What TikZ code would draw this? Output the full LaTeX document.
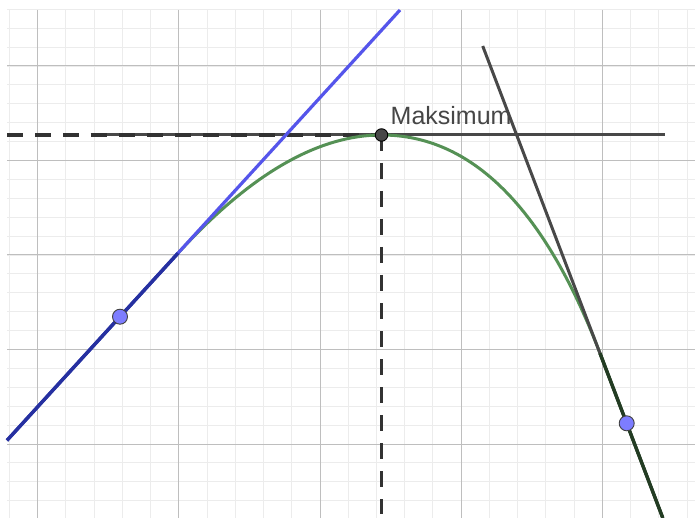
\documentclass[tikz,border=0pt]{standalone}
\usepackage{fontspec}
\setmainfont{Liberation Sans}
\usetikzlibrary{calc}
\definecolor{minorc}{RGB}{236,236,236}
\definecolor{majorc}{RGB}{190,190,190}
\definecolor{gblue}{RGB}{85,85,235}
\definecolor{ggreen}{RGB}{85,145,85}
\definecolor{gdark}{RGB}{72,72,72}
\definecolor{dashc}{RGB}{50,50,50}
\definecolor{ovblue}{RGB}{38,48,160}
\definecolor{ovdark}{RGB}{35,60,35}
\definecolor{ptblue}{RGB}{125,125,255}
\definecolor{txtc}{RGB}{70,70,70}
\tikzset{
  minorgrid/.style={draw=minorc, line width=0.9pt},
  majorgrid/.style={draw=majorc, line width=1pt},
  dashline/.style={draw=dashc, line width=3.4pt, dash pattern=on 16pt off 12pt},
  tanline/.style={draw=gdark, line width=3pt},
  blueline/.style={draw=gblue, line width=3.2pt},
  curve/.style={draw=ggreen, line width=3pt},
  bluept/.style={circle, fill=ptblue, draw=black!75, line width=0.9pt, inner sep=0pt, minimum size=15pt},
  maxpt/.style={circle, fill=gdark, draw=black, line width=0.9pt, inner sep=0pt, minimum size=12.5pt},
  lbl/.style={text=txtc, font=\fontsize{25}{30}\selectfont, inner sep=0pt, anchor=base west}
}
\begin{document}
\begin{tikzpicture}[x=1pt,y=-1pt]
\useasboundingbox (0,0) rectangle (695,518);
\fill[white] (0,0) rectangle (695,518);
% grid
\begin{scope}
\clip (7,10) rectangle (695,518);
\foreach \i in {0,...,24} \draw[minorgrid] ({9.47+28.23*\i},10) -- ({9.47+28.23*\i},518);
\foreach \i in {0,...,26} \draw[minorgrid] (7,{9.3+18.9*\i}) -- (695,{9.3+18.9*\i});
\foreach \i in {0,...,4} \draw[majorgrid] ({37.7+141.15*\i},10) -- ({37.7+141.15*\i},518);
\foreach \i in {0,...,4} \draw[majorgrid] (7,{66+94.5*\i}) -- (695,{66+94.5*\i});
\end{scope}
% key coordinates
\coordinate (M) at (381.5,135);
\coordinate (A) at (178,253.2);
\coordinate (B) at (600,353.3);
\coordinate (C1) at (285.9,135);
\coordinate (C2) at (516.7,135);
\coordinate (L0) at (7,440.4);
\coordinate (L1) at (400,10);
\coordinate (R0) at (482.7,46);
\coordinate (R1) at (662.8,518);
\coordinate (H0) at (7,135);
\coordinate (H1) at (90.7,135);
\coordinate (H2) at (665,135);
\coordinate (V1) at (381.5,514);
% horizontal tangent at maximum
\draw[tanline] (H1) -- (H2);
% dashed projections
\draw[dashline] (H0) -- (M);
\draw[dashline] (M) -- (V1);
% curve
\draw[curve] (L0) -- (A) .. controls ($(A)!2/3!(C1)$) and ($(M)!2/3!(C1)$) .. (M)
  .. controls ($(M)!2/3!(C2)$) and ($(B)!2/3!(C2)$) .. (B) -- (R1);
% tangent lines
\draw[blueline] (L0) -- (L1);
\draw[tanline] (R0) -- (R1);
% overlapping parts
\draw[draw=ovblue, line width=3.4pt] (L0) -- (A);
\draw[draw=ovdark, line width=3.4pt] (B) -- (R1);
% points
\node[bluept] (P1) at (120,316.7) {};
\node[bluept] (P2) at (626.7,423.3) {};
\node[maxpt] (Pm) at (M) {};
\node[lbl] (lab) at (390.5,124.3) {Maksimum};
\end{tikzpicture}
\end{document}
